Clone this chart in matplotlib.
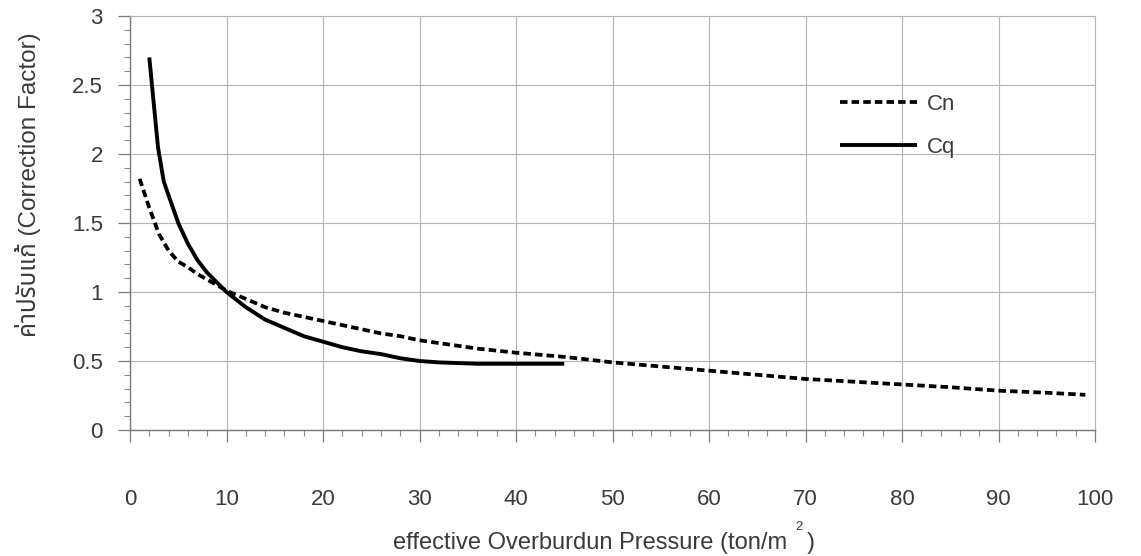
import matplotlib
matplotlib.use("Agg")
import matplotlib.pyplot as plt
from matplotlib import font_manager
from matplotlib.ft2font import FT2Font
from matplotlib.ticker import MultipleLocator

# ---- data ----
cn_x = [1, 2, 3, 4, 5, 6, 7, 8, 9, 10, 12, 14, 16, 18, 20, 22, 24, 26, 28, 30,
        33, 36, 40, 45, 50, 55, 60, 65, 70, 75, 80, 85, 90, 95, 99]
cn_y = [1.82, 1.61, 1.42, 1.30, 1.22, 1.18, 1.13, 1.09, 1.05, 1.01, 0.95, 0.89,
        0.85, 0.82, 0.79, 0.76, 0.73, 0.70, 0.68, 0.65, 0.62, 0.59, 0.56, 0.53,
        0.49, 0.46, 0.43, 0.40, 0.37, 0.35, 0.33, 0.31, 0.285, 0.27, 0.255]

cq_x = [2, 2.9, 3.5, 4, 4.5, 5, 6, 7, 8, 9, 10, 12, 14, 16, 18, 20, 22, 24, 26,
        28, 30, 32, 34, 36, 38, 40, 42, 45]
cq_y = [2.70, 2.05, 1.80, 1.70, 1.60, 1.50, 1.35, 1.23, 1.14, 1.07, 1.00, 0.89,
        0.80, 0.74, 0.68, 0.64, 0.60, 0.57, 0.55, 0.52, 0.50, 0.49, 0.485,
        0.48, 0.48, 0.48, 0.48, 0.48]

x_ticks = [0, 10, 20, 30, 40, 50, 60, 70, 80, 90, 100]
y_ticks = [0, 0.5, 1, 1.5, 2, 2.5, 3]
y_tick_labels = ["0", "0.5", "1", "1.5", "2", "2.5", "3"]
series_labels = ["Cn", "Cq"]
x_label = "effective Overburdun Pressure (ton/m   )"
y_label = "ค่าปรับแก้ (Correction Factor)"

# ---- fonts ----
TEXT = "#3a3a3a"
base = "Liberation Sans"
FS = 16


def find_thai_font():
    pref = []
    for f in font_manager.fontManager.ttflist:
        try:
            cm = FT2Font(f.fname).get_charmap()
        except Exception:
            continue
        if 0x0E04 in cm and 0x0E1B in cm:
            pref.append(f.name)
    for p in ["Noto Sans Thai", "Loma", "Garuda", "Tlwg Typo", "Norasi"]:
        if p in pref:
            return p
    return pref[0] if pref else None


thai = find_thai_font()
ylab_family = [base] + ([thai] if thai else []) + ["DejaVu Sans"]
plt.rcParams["font.family"] = [base, "DejaVu Sans"]

fig = plt.figure(figsize=(11.41, 5.56), dpi=100)
W, H = 1141, 556
ax = fig.add_axes([130 / W, (H - 430) / H, 965 / W, 414 / H])

ax.plot(cn_x, cn_y, color="black", lw=2.7, linestyle=(0, (2, 1.1)),
        dash_capstyle="butt", label=series_labels[0])
ax.plot(cq_x, cq_y, color="black", lw=2.8, solid_capstyle="butt",
        label=series_labels[1])

ax.set_xlim(0, 100)
ax.set_ylim(0, 3)
ax.set_xticks(x_ticks)
ax.set_yticks(y_ticks)
ax.set_yticklabels(y_tick_labels)
ax.xaxis.set_minor_locator(MultipleLocator(2))
ax.yaxis.set_minor_locator(MultipleLocator(0.1))

grid_c = "#b4b4b4"
ax.grid(True, which="major", color=grid_c, lw=0.8)
ax.set_axisbelow(True)
for s in ["top", "right"]:
    ax.spines[s].set_color(grid_c)
    ax.spines[s].set_linewidth(0.8)
for s in ["left", "bottom"]:
    ax.spines[s].set_color("#7a7a7a")
    ax.spines[s].set_linewidth(1.0)

ax.tick_params(axis="both", which="major", direction="out", length=8.5,
               width=0.9, color="#7a7a7a", labelsize=FS, labelcolor=TEXT)
ax.tick_params(axis="both", which="minor", direction="out", length=4.3,
               width=0.8, color="#8a8a8a")
ax.tick_params(axis="x", which="major", pad=34)
ax.tick_params(axis="y", which="major", pad=11)

# axis titles
fig.text(393 / W, 7 / H, x_label, fontsize=17, color=TEXT, ha="left",
         va="baseline")
fig.text(799 / W, (H - 527) / H, "2", fontsize=9.5, color=TEXT, ha="center",
         va="center")
fig.text(28 / W, (H - 185) / H, y_label, fontsize=17.5, color=TEXT,
         rotation=90, ha="center", va="center", family=ylab_family)

leg = ax.legend(loc="upper left", bbox_to_anchor=(840 / W, 1 - 94 / H),
                bbox_transform=fig.transFigure, frameon=False, fontsize=FS,
                handlelength=3.45, handletextpad=0.45, labelspacing=1.0,
                borderpad=0, borderaxespad=0)
for t in leg.get_texts():
    t.set_color(TEXT)

fig.savefig("out.png", dpi=100, facecolor="white")
